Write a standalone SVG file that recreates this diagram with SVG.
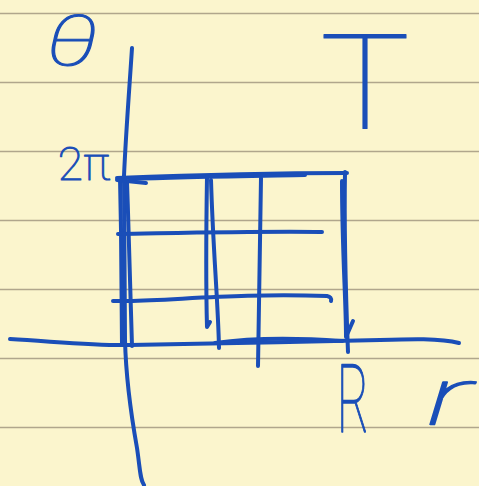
<svg xmlns="http://www.w3.org/2000/svg" width="479" height="486" viewBox="0 0 479 486">
  <style>
    .rule { stroke: #b0a68c; stroke-width: 1.5; fill: none; }
    .ink { stroke: #1a4eb8; stroke-width: 4; fill: none; stroke-linecap: round; stroke-linejoin: round; }
    .lbl { fill: #1a4eb8; stroke: #1a4eb8; stroke-width: 1; font-family: Roboto, "Liberation Sans", sans-serif; font-weight: 100; stroke-linejoin: round; }
  </style>
  <rect width="479" height="486" fill="#fbf5cd"/>
  <g id="paper-rules">
    <line class="rule" x1="0" y1="13.5" x2="479" y2="13.5"/>
    <line class="rule" x1="0" y1="82.5" x2="479" y2="82.5"/>
    <line class="rule" x1="0" y1="151.5" x2="479" y2="151.5"/>
    <line class="rule" x1="0" y1="220.5" x2="479" y2="220.5"/>
    <line class="rule" x1="0" y1="289.5" x2="479" y2="289.5"/>
    <line class="rule" x1="0" y1="358.5" x2="479" y2="358.5"/>
    <line class="rule" x1="0" y1="427.5" x2="479" y2="427.5"/>
  </g>
  <g id="axes">
    <path class="ink" d="M132,48 C130,80 126,130 124,176 L125,340 C126,380 132,420 137,448 C140,468 140,480 144,485"/>
    <path class="ink" d="M10,339 C60,342 100,346 130,345 C200,344 300,342 380,340 C410,339 440,338 459,343"/>
  </g>
  <g id="grid">
    <path class="ink" d="M120,178 L121,230 L122,345"/>
    <path class="ink" d="M127,182 C129,240 131,300 132,346"/>
    <path class="ink" d="M117,178 C170,176 260,173 347,173"/>
    <path class="ink" d="M130,179 C180,177 250,176 305,175"/>
    <path class="ink" d="M117,180 L146,183"/>
    <path class="ink" d="M345,172 C344,230 346,300 348,352"/>
    <path class="ink" d="M342,181 C342,250 346,300 346,337 L353,321"/>
    <path class="ink" d="M207,177 C206,240 206,290 207,327 L210,322"/>
    <path class="ink" d="M211,180 C213,250 218,300 219,348"/>
    <path class="ink" d="M261,178 C260,250 259,320 258,366"/>
    <path class="ink" d="M118,234 C180,233 260,231 322,232"/>
    <path class="ink" d="M113,301 L128,301 C180,300 240,293 327,296 Q332,297 331,301"/>
    <path class="ink" d="M215,343 C250,338 300,338 342,341"/>
  </g>
  <g id="labels">
    <text class="lbl" x="46" y="65" font-size="70" font-style="italic" textLength="52" lengthAdjust="spacingAndGlyphs" stroke-width="1">θ</text>
    <text class="lbl" x="84" y="180" font-size="46" text-anchor="middle">2π</text>
    <text class="lbl" x="320" y="128" font-size="132" textLength="90" lengthAdjust="spacingAndGlyphs" stroke-width="0">T</text>
    <text class="lbl" transform="translate(337,432) scale(1,1.4)" x="0" y="0" font-size="68" textLength="32" lengthAdjust="spacingAndGlyphs" stroke-width="1.5">R</text>
    <text class="lbl" transform="translate(426,424) scale(1,1.3)" x="0" y="0" font-size="62" font-style="italic" textLength="46" lengthAdjust="spacingAndGlyphs" stroke-width="0">r</text>
  </g>
</svg>
